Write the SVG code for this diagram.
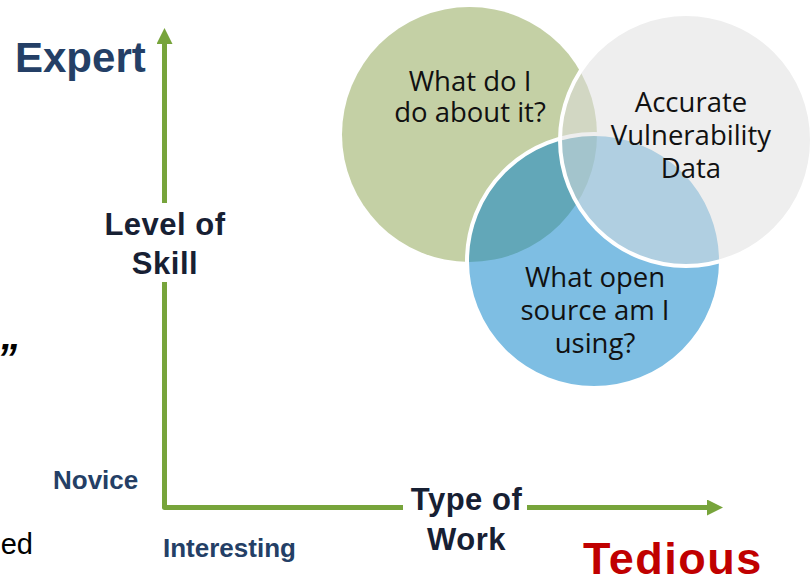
<svg xmlns="http://www.w3.org/2000/svg" width="811" height="582" viewBox="0 0 811 582">
<style>
.ax{fill:none;stroke:#77a43b;stroke-width:5;stroke-linejoin:round}
.b{font-family:"Liberation Sans",Arial,sans-serif;font-weight:bold}
.navy{fill:#243f66}
.dark{fill:#172033}
.v{font-family:"Open Sans","Liberation Sans",sans-serif;font-size:27.5px;fill:#111;text-anchor:middle}
.c{stroke:#fff;stroke-width:4}
</style>
<defs>
<marker id="ah" viewBox="0 0 16 16" refX="0" refY="8" markerWidth="16" markerHeight="16" markerUnits="userSpaceOnUse" orient="auto">
<path d="M0,0 L16,8 L0,16 Z" fill="#77a43b"/>
</marker>
</defs>
<rect width="811" height="582" fill="#fff"/>
<g id="venn-green">
<circle cx="469.5" cy="134.5" r="127.5" fill="#c4d0a5"/>
</g>
<g id="venn-blue">
<circle class="c" cx="594" cy="261" r="127" fill="#0783c9" fill-opacity="0.52"/>
</g>
<g id="venn-grey">
<circle class="c" cx="686" cy="140" r="126" fill="#dedede" fill-opacity="0.52"/>
</g>
<g id="venn-labels">
<text class="v" x="470" y="91">What do I</text>
<text class="v" x="470" y="122">do about it?</text>
<text class="v" x="691" y="112">Accurate</text>
<text class="v" x="691" y="145">Vulnerability</text>
<text class="v" x="691" y="178">Data</text>
<text class="v" x="595" y="287">What open</text>
<text class="v" x="595" y="320">source am I</text>
<text class="v" x="595" y="353">using?</text>
</g>
<g id="connectors">
<path class="ax" d="M164.5,282 V507.5 H403"/>
<path class="ax" d="M164.5,203 V44" marker-end="url(#ah)"/>
<path class="ax" d="M527,507.5 H707" marker-end="url(#ah)"/>
</g>
<g id="expert"><text class="b navy" x="15" y="72" font-size="42">Expert</text></g>
<g id="level-of-skill">
<text class="b dark" x="165" y="235" font-size="31" letter-spacing="0.5" text-anchor="middle">Level of</text>
<text class="b dark" x="165" y="274" font-size="31" letter-spacing="0.5" text-anchor="middle">Skill</text>
</g>
<g id="novice"><text class="b navy" x="53" y="489" font-size="26">Novice</text></g>
<g id="interesting"><text class="b navy" x="163" y="557" font-size="26">Interesting</text></g>
<g id="type-of-work">
<text class="b dark" x="466.5" y="510" font-size="31" letter-spacing="0.5" text-anchor="middle">Type of</text>
<text class="b dark" x="466.5" y="550" font-size="31" letter-spacing="0.5" text-anchor="middle">Work</text>
</g>
<g id="tedious"><text class="b" x="583" y="574" font-size="45" letter-spacing="1.5" fill="#c00000">Tedious</text></g>
<g id="fragments">
<text x="-3" y="372" font-family="Liberation Sans,Arial,sans-serif" font-weight="bold" font-style="italic" font-size="40" fill="#000">”</text>
<text x="33" y="554" font-family="Liberation Sans,Arial,sans-serif" font-size="29" fill="#000" text-anchor="end">ed</text>
</g>
</svg>
